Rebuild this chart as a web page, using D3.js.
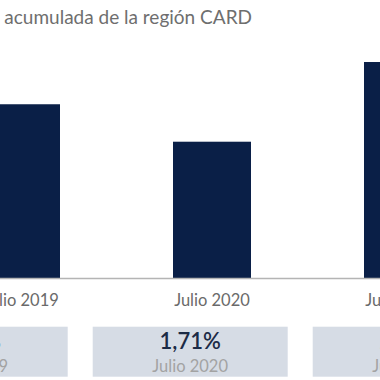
<!DOCTYPE html>
<html>
<head>
<meta charset="utf-8">
<script src="https://cdn.jsdelivr.net/npm/d3@7"></script>
<style>
  html, body { margin: 0; padding: 0; background: #ffffff; overflow: hidden; }
  svg { display: block; }
  text { font-family: Lato, "Open Sans", sans-serif; }
</style>
</head>
<body>
<svg id="chart" width="380" height="380"></svg>
<script>
// Data
const titleText = "Inflación acumulada de la región CARD";
const categories = ["Julio 2019", "Julio 2020", "Julio 2021"];
const values = [2.18, 1.71, 2.71];
const valueLabels = ["2,18%", "1,71%", "2,71%"];

const svg = d3.select("#chart");
const baseY = 278;

// Scales
const x = d3.scaleBand()
  .domain(categories)
  .range([-113.5, 537.5])
  .paddingInner(113 / 191)
  .paddingOuter(0.5);

const y = d3.scaleLinear()
  .domain([0, 3])
  .range([baseY, baseY - 3 * 79.7]);

const xBox = d3.scaleBand()
  .domain(categories)
  .range([-127.3, 507.7])
  .paddingInner(25 / 220)
  .paddingOuter(0);

// Title (cut off at left in reference)
svg.append("text")
  .attr("x", 252)
  .attr("y", 24)
  .attr("text-anchor", "end")
  .attr("font-size", 19)
  .attr("fill", "#6e6e6e")
  .text(titleText);

// Bars
svg.append("g").selectAll("rect")
  .data(categories)
  .join("rect")
  .attr("x", d => x(d))
  .attr("width", x.bandwidth())
  .attr("y", (d, i) => y(values[i]))
  .attr("height", (d, i) => y(0) - y(values[i]))
  .attr("fill", "#0a1f47");

// Axis
const axis = svg.append("g")
  .attr("transform", `translate(0,${baseY})`)
  .call(d3.axisBottom(x).tickSize(0).tickPadding(16));
axis.select(".domain").attr("stroke", "#b4b4b4").attr("stroke-width", 1.5);
axis.selectAll(".tick text")
  .attr("font-size", 16.5)
  .attr("fill", "#6a6a6a")
  .attr("font-family", "Lato, sans-serif");

// Boxes
const boxTop = 326.7, boxH = 50;
const boxes = svg.append("g").selectAll("g")
  .data(categories)
  .join("g");

boxes.append("rect")
  .attr("x", d => xBox(d))
  .attr("y", boxTop)
  .attr("width", xBox.bandwidth())
  .attr("height", boxH)
  .attr("fill", "#d6dce5");

boxes.append("text")
  .attr("x", d => xBox(d) + xBox.bandwidth() / 2)
  .attr("y", boxTop + 22.5)
  .attr("text-anchor", "middle")
  .attr("font-size", 22)
  .attr("font-weight", 600)
  .attr("fill", "#1c2b46")
  .text((d, i) => valueLabels[i]);

boxes.append("text")
  .attr("x", d => xBox(d) + xBox.bandwidth() / 2)
  .attr("y", boxTop + 45.5)
  .attr("text-anchor", "middle")
  .attr("font-size", 16.5)
  .attr("fill", "#a3a3a3")
  .text(d => d);
</script>
</body>
</html>
